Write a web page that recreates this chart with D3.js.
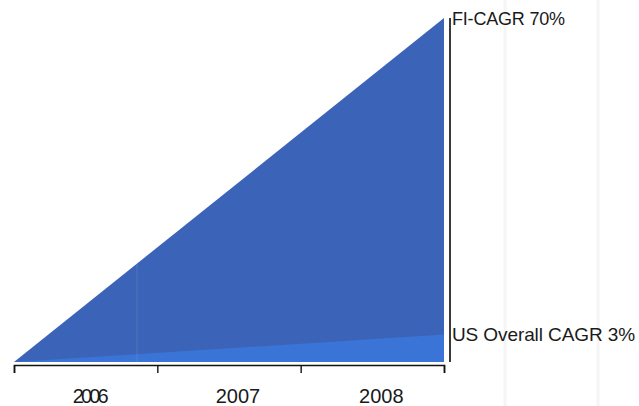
<!DOCTYPE html>
<html>
<head>
<meta charset="utf-8">
<script src="https://cdn.jsdelivr.net/npm/d3@7"></script>
<style>
  html, body { margin: 0; padding: 0; background: #fff; }
  svg { display: block; font-family: "Liberation Sans", Arial, sans-serif; }
</style>
</head>
<body>
<svg id="chart" width="639" height="406"></svg>
<script>
// Growth index, start of 2006 (0) to end of 2008 (3)
const periods = [0, 3];
const fiValues = [0, 100];
const usValues = [0, 8];
const yearLabels = ["2006", "2007", "2008"];
const seriesLabels = ["FI-CAGR 70%", "US Overall CAGR 3%"];

const svg = d3.select("#chart");

const x = d3.scaleLinear().domain([0, 3]).range([14, 444]);
const y = d3.scaleLinear().domain([0, 100]).range([362, 18]);

// faint background rules
svg.selectAll("line.bg")
  .data([505, 598])
  .join("line")
  .attr("x1", d => d).attr("x2", d => d)
  .attr("y1", 0).attr("y2", 406)
  .attr("stroke", "#f5f5f5").attr("stroke-width", 3);

const area = vals => d3.area()
  .x((d, i) => x(periods[i]))
  .y0(y(0))
  .y1(d => y(d))(vals);

svg.append("path").attr("d", area(fiValues)).attr("fill", "#3b63b7");
svg.append("path").attr("d", area(usValues)).attr("fill", "#3a74d6");

// thin light seam in the fill
svg.append("clipPath").attr("id", "fiClip")
  .append("path").attr("d", area(fiValues));
svg.append("line")
  .attr("clip-path", "url(#fiClip)")
  .attr("x1", 137).attr("x2", 137)
  .attr("y1", y(100)).attr("y2", y(0))
  .attr("stroke", "#6aa6d8").attr("stroke-opacity", 0.3).attr("stroke-width", 1);

// right-hand divider
svg.append("line")
  .attr("x1", 450).attr("x2", 450)
  .attr("y1", y(100)).attr("y2", y(0))
  .attr("stroke", "#3a3a3a").attr("stroke-width", 2);

// x axis
const axis = d3.axisBottom(x)
  .tickValues([0, 1, 2, 3])
  .tickSize(8)
  .tickFormat("");
const gAxis = svg.append("g").attr("transform", "translate(0,365)").call(axis);
gAxis.select(".domain").attr("stroke", "#111").attr("stroke-width", 1.6);
gAxis.selectAll(".tick line").attr("stroke", "#111").attr("stroke-width", 1.4);

// year labels, centred in each period; the first one prints tightly packed
svg.append("g").selectAll("text")
  .data(yearLabels)
  .join("text")
  .attr("x", (d, i) => x(i + 0.5) + (i === 0 ? 5 : 9))
  .attr("y", 403)
  .attr("text-anchor", "middle")
  .attr("font-size", 20)
  .attr("fill", "#1a1a1a")
  .attr("textLength", (d, i) => i === 0 ? 36 : null)
  .attr("lengthAdjust", (d, i) => i === 0 ? "spacing" : null)
  .text(d => d);

// series labels at the right
svg.append("text")
  .attr("x", 452).attr("y", 25)
  .attr("font-size", 18).attr("fill", "#1a1a1a")
  .attr("letter-spacing", -0.2)
  .text(seriesLabels[0]);
svg.append("text")
  .attr("x", 452).attr("y", 341)
  .attr("font-size", 19).attr("fill", "#1a1a1a")
  .attr("letter-spacing", -0.1)
  .text(seriesLabels[1]);
</script>
</body>
</html>
